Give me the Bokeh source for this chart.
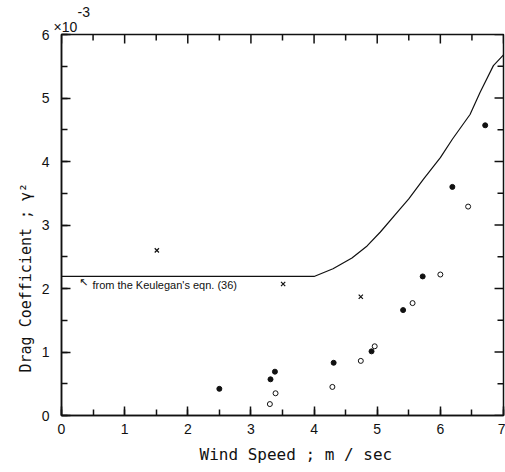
from bokeh.plotting import figure
from bokeh.models import (Range1d, SingleIntervalTicker, Label, Title)
from bokeh.core.properties import value
from bokeh.embed import file_html
from bokeh.resources import INLINE

# ---- data ----
filled_x = [2.50, 3.31, 3.38, 4.31, 4.91, 5.41, 5.72, 6.19, 6.71]
filled_y = [0.42, 0.57, 0.69, 0.83, 1.01, 1.66, 2.19, 3.60, 4.57]
open_x = [3.30, 3.39, 4.29, 4.74, 4.96, 5.56, 6.00, 6.44]
open_y = [0.18, 0.35, 0.45, 0.86, 1.09, 1.77, 2.22, 3.29]
cross_x = [1.51, 3.51, 4.74]
cross_y = [2.60, 2.07, 1.87]
curve_x = [0.0, 4.0, 4.3, 4.6, 4.84, 5.05, 5.36, 5.5, 5.73, 6.0, 6.19, 6.47, 6.63, 6.84, 7.0]
curve_y = [2.19, 2.19, 2.31, 2.48, 2.67, 2.89, 3.25, 3.41, 3.72, 4.06, 4.35, 4.74, 5.09, 5.51, 5.68]
x_ticks = [0, 1, 2, 3, 4, 5, 6, 7]
y_ticks = [0, 1, 2, 3, 4, 5, 6]
x_minor = [0.5, 1.5, 2.5, 3.5, 4.5, 5.5, 6.5]
y_minor = [0.5, 1.5, 2.5, 3.5, 4.5, 5.5]

FONT = "Liberation Sans"
TFONT = "DejaVu Sans Mono"
INK = "#111111"
X0, X1, Y0, Y1 = 0, 7, 0, 6

p = figure(width=505, height=472, output_backend="svg", toolbar_location=None,
           x_range=Range1d(X0, X1), y_range=Range1d(Y0, Y1),
           min_border_left=61, min_border_right=2, min_border_top=34, min_border_bottom=57)
p.grid.visible = False
p.outline_line_color = INK
p.outline_line_width = 1.5

for ax in (p.xaxis[0], p.yaxis[0]):
    ax.ticker = SingleIntervalTicker(interval=1, num_minor_ticks=2)
    ax.major_tick_in = 9
    ax.major_tick_out = 0
    ax.minor_tick_in = 6
    ax.minor_tick_out = 0
    ax.axis_line_color = INK
    ax.axis_line_width = 1.5
    ax.major_tick_line_color = INK
    ax.minor_tick_line_color = INK
    ax.major_tick_line_width = 1.5
    ax.minor_tick_line_width = 1.5
    ax.major_label_text_font = FONT
    ax.major_label_text_font_size = "14px"
    ax.major_label_text_color = INK
p.xaxis.major_label_standoff = 8
p.yaxis.major_label_standoff = 12

# inward tick marks on the top and right frame edges
MAJ, MIN = 0.142, 0.095   # ~9 px / ~6 px in data units
for xs, ln in ((x_ticks, MAJ), (x_minor, MIN)):
    p.segment(x0=xs, y0=[Y1] * len(xs), x1=xs, y1=[Y1 - ln] * len(xs), line_color=INK, line_width=1.5)
for ys, ln in ((y_ticks, MAJ), (y_minor, MIN)):
    p.segment(x0=[X1] * len(ys), y0=ys, x1=[X1 - ln] * len(ys), y1=ys, line_color=INK, line_width=1.5)

# curve (Keulegan's eqn.)
p.line(curve_x, curve_y, line_color=INK, line_width=1.2)

# data points
p.scatter(filled_x, filled_y, marker="circle", size=5, fill_color=INK, line_color=INK)
p.scatter(open_x, open_y, marker="circle", size=5, fill_color="white", line_color=INK, line_width=1)
p.scatter(cross_x, cross_y, marker="x", size=6, line_color=INK, line_width=1.2)

# annotation with its small arrow pointing at the curve
p.add_layout(Label(x=0.49, y=2.06, text="from the Keulegan's eqn. (36)", text_font=FONT,
                   text_font_size="11px", text_color=INK, text_baseline="middle"))
p.add_layout(Label(x=0.35, y=2.10, text="↖", text_font="DejaVu Sans",
                   text_font_size="11px", text_color=INK, text_baseline="middle",
                   text_align="center"))

# exponent
p.add_layout(Title(text="×10", align="left", offset=-8, text_font=FONT, text_font_size="14px",
                   text_font_style="normal", text_color=INK, standoff=0), "above")
p.add_layout(Title(text="-3", align="left", offset=16, text_font=FONT, text_font_size="14px",
                   text_font_style="normal", text_color=INK, standoff=0), "above")

# axis titles
p.add_layout(Title(text="Wind Speed ; m / sec", align="left", offset=138, text_font=TFONT,
                   text_font_size="16px", text_font_style="normal", text_color=INK,
                   standoff=13), "below")
p.add_layout(Title(text="Drag Coefficient ; γ²", align="left", offset=43, text_font=TFONT,
                   text_font_size="15px", text_font_style="normal", text_color=INK,
                   standoff=8), "left")

open("out.html", "w").write(file_html(p, INLINE))
